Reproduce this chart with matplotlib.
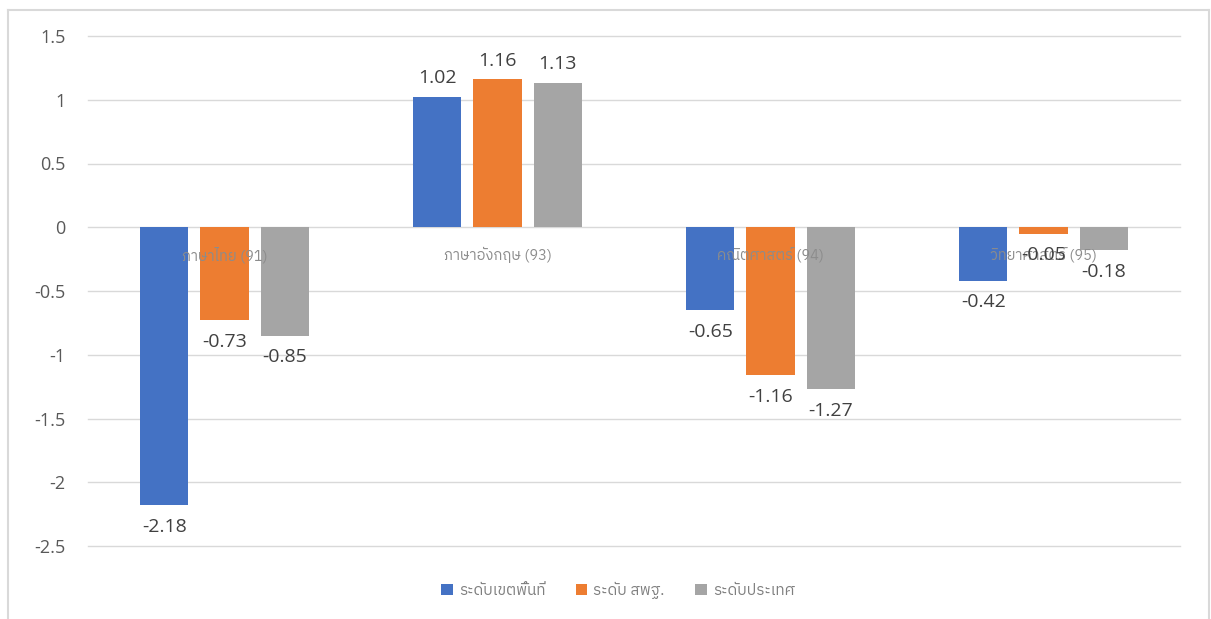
import numpy as np
import matplotlib
matplotlib.use("Agg")
import matplotlib.pyplot as plt
from matplotlib import font_manager
from matplotlib.ft2font import FT2Font

categories = ["ภาษาไทย (91)", "ภาษาอังกฤษ (93)", "คณิตศาสตร์ (94)", "วิทยาศาสตร์ (95)"]
series_names = ["ระดับเขตพื้นที่", "ระดับ สพฐ.", "ระดับประเทศ"]
area_vals = [-2.18, 1.02, -0.65, -0.42]
obec_vals = [-0.73, 1.16, -1.16, -0.05]
nation_vals = [-0.85, 1.13, -1.27, -0.18]
colors = ["#4472C4", "#ED7D31", "#A5A5A5"]
yticks = [1.5, 1, 0.5, 0, -0.5, -1, -1.5, -2, -2.5]
ytick_labels = ["1.5", "1", "0.5", "0", "-0.5", "-1", "-1.5", "-2", "-2.5"]

# find a font with Thai glyphs
thai_family = None
for fe in font_manager.fontManager.ttflist:
    try:
        cm = FT2Font(fe.fname).get_charmap()
        if 0x0E20 in cm and 0x0E01 in cm:
            thai_family = fe.name
            if "Noto" in fe.name or "Sans" in fe.name:
                break
    except Exception:
        pass
fam = ["Open Sans", "DejaVu Sans"]
thai_fam = ([thai_family] if thai_family else []) + ["DejaVu Sans"]

fig = plt.figure(figsize=(12.11, 6.19), dpi=100)
ax = fig.add_axes([88/1211, 1-546/619, (1180-88)/1211, (546-36)/619])

x = np.arange(len(categories))
w = 0.176
off = 0.22
for i, (vals, c) in enumerate(zip([area_vals, obec_vals, nation_vals], colors)):
    xs = x + (i-1)*off
    ax.bar(xs, vals, width=w, color=c, label=series_names[i], zorder=3)
    for xi, v in zip(xs, vals):
        if v >= 0:
            ax.annotate(f"{v:.2f}", (xi, v), xytext=(0, 7), textcoords="offset points",
                        ha="center", va="bottom", fontsize=14, color="#404040",
                        family=fam, zorder=5)
        else:
            ax.annotate(f"{v:.2f}", (xi, v), xytext=(0, -9), textcoords="offset points",
                        ha="center", va="top", fontsize=14, color="#404040",
                        family=fam, zorder=5)

# category labels next to the zero axis
for xi, cat in zip(x, categories):
    ax.text(xi, -0.22, cat, ha="center", va="center", fontsize=10.5, color="#8c8c8c",
            family=thai_fam, zorder=4)

ax.set_xlim(-0.5, len(categories)-0.5)
ax.set_ylim(-2.5, 1.5)
ax.set_yticks(yticks)
ax.set_yticklabels(ytick_labels, family=fam, fontsize=13, color="#595959")
ax.set_xticks([])
ax.grid(axis="y", color="#d9d9d9", linewidth=1, zorder=0)
for gl in ax.get_ygridlines():
    gl.set_clip_on(False)
ax.tick_params(axis="y", length=0, pad=16)
for s in ax.spines.values():
    s.set_visible(False)

leg = fig.legend(loc="center", bbox_to_anchor=(618/1211, 1-590/619), ncol=3,
                 frameon=False, prop={"family": thai_fam, "size": 11},
                 handlelength=0.75, handleheight=0.75, columnspacing=2.0, handletextpad=0.4)
for t in leg.get_texts():
    t.set_color("#7f7f7f")

# chart border
fig.add_artist(plt.Line2D([8/1211, 8/1211], [0, 1-10/619], transform=fig.transFigure, color="#d9d9d9", lw=1.5))
fig.add_artist(plt.Line2D([8/1211, 1209/1211], [1-10/619, 1-10/619], transform=fig.transFigure, color="#d9d9d9", lw=1.5))
fig.add_artist(plt.Line2D([1209/1211, 1209/1211], [0, 1-10/619], transform=fig.transFigure, color="#d9d9d9", lw=1.5))

fig.savefig("out.png", dpi=100)
